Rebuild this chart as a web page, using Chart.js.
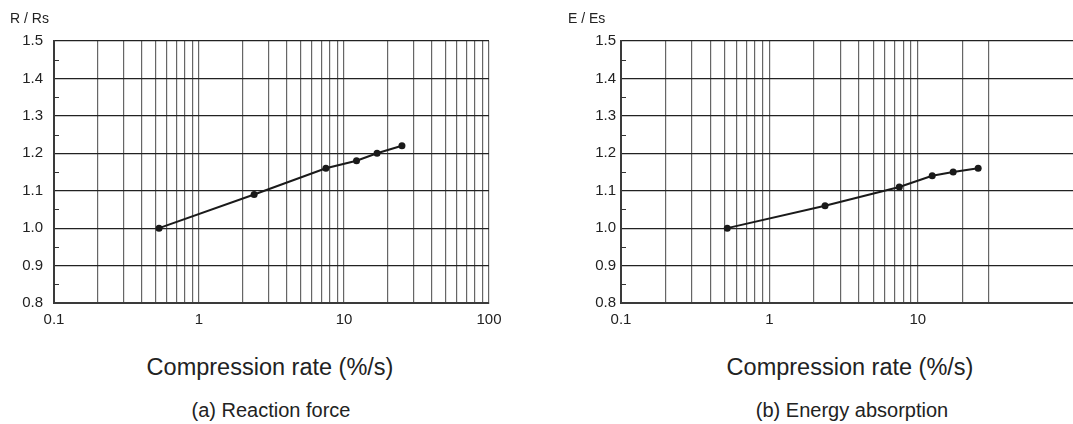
<!DOCTYPE html>
<html>
<head>
<meta charset="utf-8">
<script src="https://cdn.jsdelivr.net/npm/chart.js@4.4.0/dist/chart.umd.min.js"></script>
<style>
  html, body { margin: 0; padding: 0; background: #fff; overflow: hidden; }
  body { width: 1073px; height: 424px; position: relative; font-family: "Liberation Sans", Arial, sans-serif; color: #222; }
  .box { position: absolute; top: 0; height: 330px; }
  .lbl { position: absolute; white-space: nowrap; }
  .mid { transform: translate(-50%, -50%); }
</style>
</head>
<body>
<div class="box" style="left:0; width:530px;"><canvas id="chartA"></canvas></div>
<div class="box" style="left:540px; width:545px;"><canvas id="chartB"></canvas></div>

<div class="lbl" style="left:10px; top:10px; font-size:14px;">R / Rs</div>
<div class="lbl" style="left:568px; top:10px; font-size:14px;">E / Es</div>
<div class="lbl mid" style="left:270px; top:367px; font-size:23.5px;">Compression rate (%/s)</div>
<div class="lbl mid" style="left:850px; top:367px; font-size:23.5px;">Compression rate (%/s)</div>
<div class="lbl mid" style="left:271px; top:410px; font-size:20px;">(a) Reaction force</div>
<div class="lbl mid" style="left:852px; top:410px; font-size:20px;">(b) Energy absorption</div>

<script>
// data
const rateA = [0.53, 2.4, 7.5, 12.2, 16.9, 25.1];
const reactionForce = [1.00, 1.09, 1.16, 1.18, 1.20, 1.22];

const rateB = [0.52, 2.37, 7.5, 12.5, 17.3, 25.5];
const energyAbsorption = [1.00, 1.06, 1.11, 1.14, 1.15, 1.16];

// axis ticks
const gridA = [0.1, 0.2, 0.3, 0.4, 0.5, 0.6, 0.7, 0.8, 0.9,
               1, 2, 3, 4, 5, 6, 7, 8, 9,
               10, 20, 30, 40, 50, 60, 70, 80, 90, 100];
const gridB = [0.1, 0.2, 0.3, 0.4, 0.5, 0.6, 0.7, 0.8, 0.9,
               1, 2, 3, 4, 5, 6, 7, 8, 9,
               10, 20, 30];
const xLabelsA = [0.1, 1, 10, 100];
const xLabelsB = [0.1, 1, 10];
const yTicks = [0.8, 0.9, 1.0, 1.1, 1.2, 1.3, 1.4, 1.5];

// little ticks between the y labels, inside the plot
const minorTicks = {
    id: 'minorTicks',
    afterDraw(chart) {
        const ctx = chart.ctx;
        const y = chart.scales.y;
        const left = chart.chartArea.left;
        ctx.save();
        ctx.strokeStyle = '#333';
        ctx.lineWidth = 1;
        for (let i = 0; i < yTicks.length - 1; i++) {
            const py = Math.round(y.getPixelForValue((yTicks[i] + yTicks[i + 1]) / 2)) + 0.5;
            ctx.beginPath();
            ctx.moveTo(left, py);
            ctx.lineTo(left + 5, py);
            ctx.stroke();
        }
        ctx.restore();
    }
};

function makeChart(id, xs, ys, grid, labels, xMax, opt) {
    const pts = xs.map((x, i) => ({ x: x, y: ys[i] }));
    return new Chart(document.getElementById(id), {
        type: 'line',
        data: {
            datasets: [{
                data: pts,
                borderColor: '#1a1a1a',
                backgroundColor: '#1a1a1a',
                borderWidth: 2,
                pointRadius: 3.5,
                pointBackgroundColor: '#1a1a1a',
                pointBorderWidth: 0,
                tension: 0
            }]
        },
        options: {
            responsive: true,
            maintainAspectRatio: false,
            animation: false,
            layout: { padding: { top: 41, right: opt.padRight, left: 0, bottom: 0 } },
            plugins: { legend: { display: false }, tooltip: { enabled: false } },
            scales: {
                x: {
                    type: 'logarithmic',
                    min: 0.1,
                    max: xMax,
                    afterBuildTicks: (s) => { s.ticks = grid.map(v => ({ value: v })); },
                    afterFit: (s) => { s.height = 27; },
                    grid: { color: '#666', lineWidth: 1.2, drawTicks: false },
                    border: { color: '#3a3a3a', width: 2 },
                    ticks: {
                        autoSkip: false,
                        maxRotation: 0,
                        padding: 8,
                        color: '#222',
                        font: { family: 'Liberation Sans', size: 15 },
                        callback: (v) => labels.includes(v) ? String(v) : ''
                    }
                },
                y: {
                    min: 0.8,
                    max: 1.5,
                    afterBuildTicks: (s) => { s.ticks = yTicks.map(v => ({ value: v })); },
                    afterFit: (s) => { s.width = opt.yWidth; },
                    grid: { color: '#222', lineWidth: 1.2, drawTicks: false },
                    border: { color: '#3a3a3a', width: 2 },
                    ticks: {
                        padding: opt.yPad,
                        color: '#222',
                        font: { family: 'Liberation Sans', size: 15 },
                        callback: (v) => Number(v).toFixed(1)
                    }
                }
            }
        },
        plugins: [minorTicks]
    });
}

makeChart('chartA', rateA, reactionForce, gridA, xLabelsA, 100, { padRight: 41, yWidth: 54, yPad: 11 });
makeChart('chartB', rateB, energyAbsorption, gridB, xLabelsB, 120, { padRight: 7, yWidth: 81, yPad: 5 });
</script>
</body>
</html>
